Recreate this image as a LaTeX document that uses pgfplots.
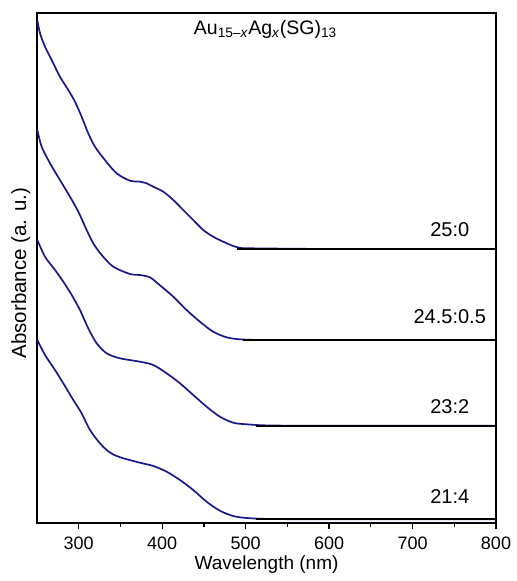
\documentclass[border=0pt]{standalone}
\usepackage{pgfplots}
\pgfplotsset{compat=1.18}
\usepackage{fontspec}
\setmainfont{Liberation Sans}
\definecolor{curveblue}{RGB}{25,25,140}
\begin{document}
\begin{tikzpicture}
\begin{axis}[
  width=459bp, height=510bp, scale only axis,
  xmin=250, xmax=800, ymin=0, ymax=510,
  xtick={300,400,500,600,700,800},
  minor x tick num=1,
  xtick pos=left,
  ytick=\empty,
  tick align=outside,
  major tick length=6bp, minor tick length=4bp,
  every tick/.style={black, line width=1.2bp},
  axis line style={line width=1.6bp},
  tick label style={font=\fontsize{18bp}{20bp}\selectfont},
  xticklabel style={yshift=-4bp},
  /pgf/number format/assume math mode=true,
  /pgf/number format/1000 sep={},
  xlabel={Wavelength (nm)},
  ylabel={Absorbance (a. u.)},
  xlabel style={font=\fontsize{19bp}{21bp}\selectfont, at={(axis description cs:0.5,0)}, anchor=base, yshift=-46bp},
  ylabel style={font=\fontsize{20.5bp}{22bp}\selectfont, at={(axis description cs:0,0.49)}, anchor=base, yshift=11bp},
  clip=true,
]
% 25:0
\addplot[curveblue, line width=1.7bp, smooth] coordinates {
(250.4,503) (253.6,489.7) (259.6,476.3) (267.6,463) (277.5,446.3) (287.5,433)
(295.5,421.3) (303.5,406.3) (311.4,389.7) (319.5,376.3) (331.4,363) (345.4,349.7)
(361.4,342.3) (373.4,341.3) (381.3,339.7) (389.3,336.3) (401.3,331.3) (413.3,323)
(425.2,313) (437.2,303) (449.2,293) (461.1,286.3) (473.1,281.3) (485.1,277)
(493,275.3) (505,274.7) (600,274) (700,274) (800,274)};
% 24.5:0.5
\addplot[curveblue, line width=1.7bp, smooth] coordinates {
(250.4,393) (255.6,376.3) (265.6,359.7) (277.5,343) (289.5,326.3) (299.5,311.3)
(309.5,293) (317.4,279.7) (327.5,268) (341.4,256.3) (361.4,249) (373.4,248)
(385.3,245.7) (393.3,240.5) (413.3,226.3) (429.2,213) (445.2,201.3)
(461.1,191.3) (477.1,185.7) (493,183.7) (520,183) (600,183) (700,183) (800,183)};
% 23:2
\addplot[curveblue, line width=1.7bp, smooth] coordinates {
(250.4,283) (259.6,266.3) (271.6,253) (281.5,241.3) (291.6,228) (301.5,213)
(311.4,194.7) (321.5,179.7) (333.5,169.7) (349.4,164.7) (373.4,161.3)
(389.3,158) (405.3,149.7) (421.3,139.7) (437.2,128) (453.2,116.3) (469.2,106.3)
(485.1,100.3) (501.1,98.7) (530,97.5) (600,97.3) (700,97.3) (800,97.3)};
% 21:4
\addplot[curveblue, line width=1.7bp, smooth] coordinates {
(250.4,183) (259.6,168) (271.6,153) (281.5,139.7) (293.5,123) (303.5,109.7)
(313.5,93) (325.4,79.7) (333.5,73) (341.4,68.5) (353.4,64.7) (373.4,60.3) (389.3,57)
(405.3,51.3) (421.3,43) (437.2,33) (453.2,21.3) (469.2,12.3) (485.1,7)
(501.1,5) (530,4) (600,3.7) (700,3.7) (800,3.7)};
% black baselines
\addplot[black, line width=1.8bp] coordinates {(490,273.7) (800,273.7)};
\addplot[black, line width=1.8bp] coordinates {(497,183) (800,183)};
\addplot[black, line width=1.8bp] coordinates {(512,97) (800,97)};
\addplot[black, line width=1.8bp] coordinates {(512,3.7) (800,3.7)};
% labels
\node[font=\fontsize{20bp}{22bp}\selectfont] at (axis cs:744.6,293.5) {25:0};
\node[font=\fontsize{20bp}{22bp}\selectfont] at (axis cs:744.6,206.5) {24.5:0.5};
\node[font=\fontsize{20bp}{22bp}\selectfont] at (axis cs:744.6,116) {23:2};
\node[font=\fontsize{20bp}{22bp}\selectfont] at (axis cs:744.6,26) {21:4};
\node[font=\fontsize{19.5bp}{22bp}\selectfont] at (axis cs:523.6,494) {Au\textsubscript{15\textendash\textit{x}}Ag\textsubscript{\textit{x}}(SG)\textsubscript{13}};
\end{axis}
\path (current axis.south west) ++(-37bp,-58bp) coordinate (bbA);
\path (current axis.north east) ++(21bp,13bp) coordinate (bbB);
\path (bbA) rectangle (bbB);
\end{tikzpicture}
\end{document}
